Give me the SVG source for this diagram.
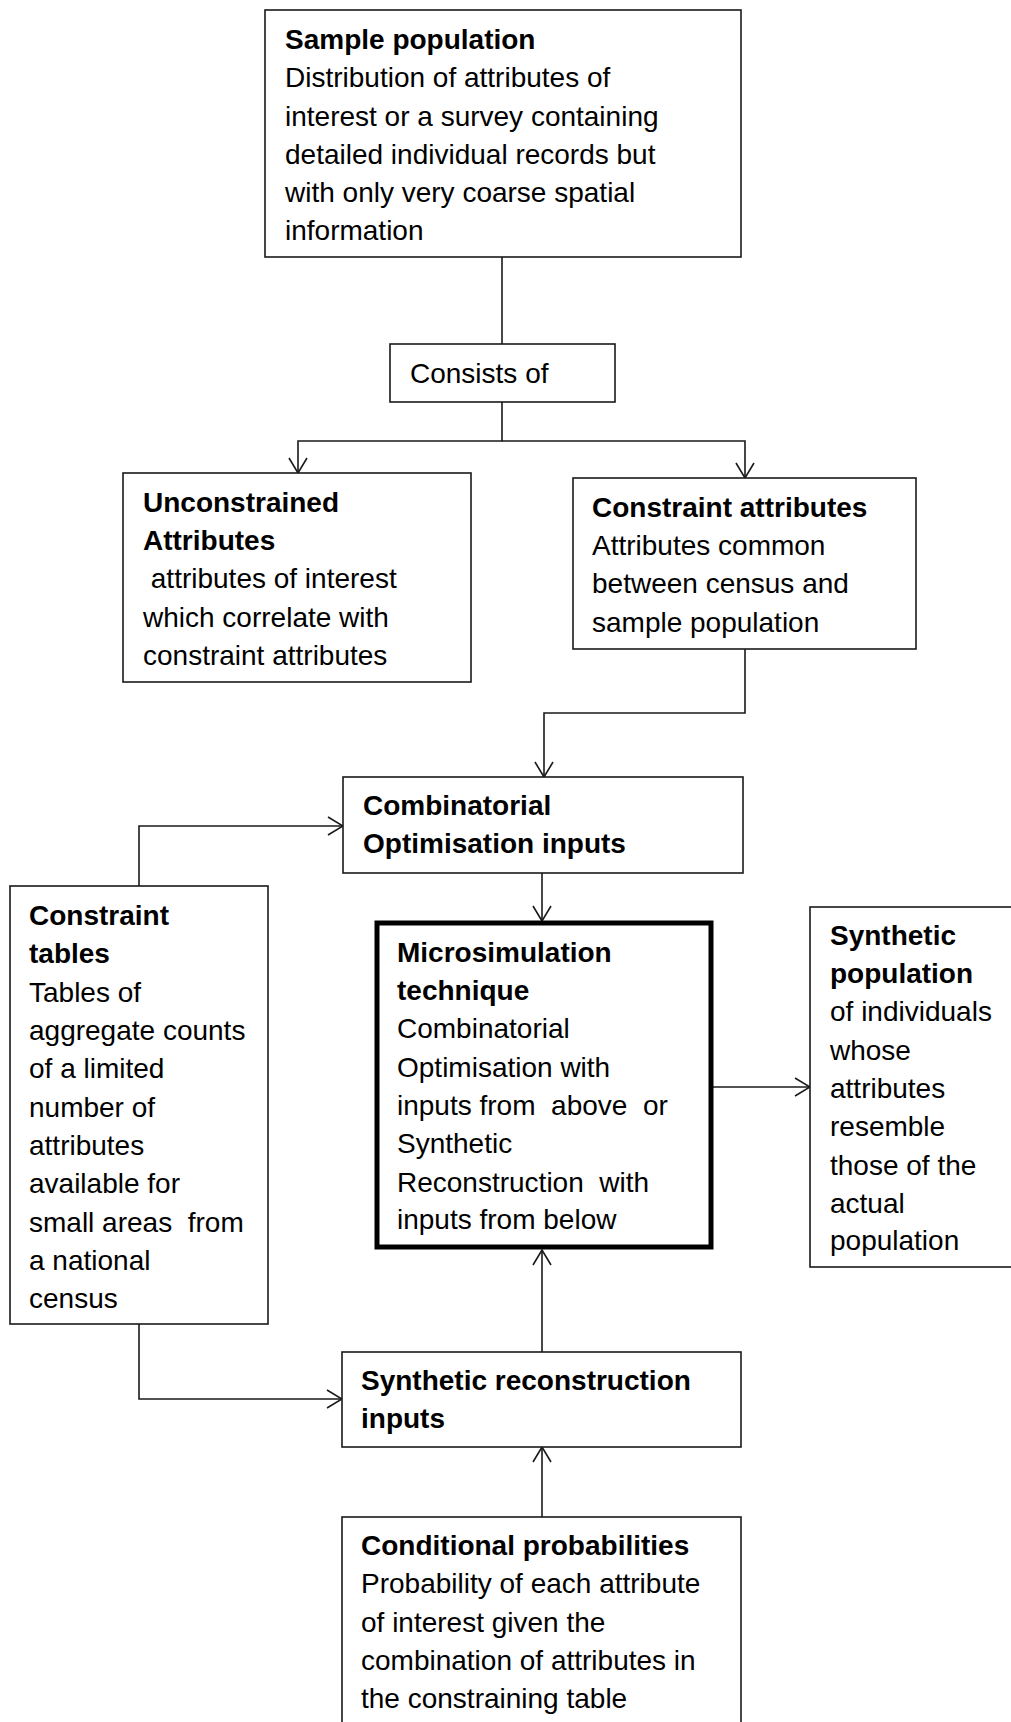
<svg xmlns="http://www.w3.org/2000/svg" width="1011" height="1722" viewBox="0 0 1011 1722">
<style>
.box{fill:#fff;stroke:#1a1a1a;stroke-width:1.6}
.thick{fill:#fff;stroke:#000;stroke-width:5}
.t{font-family:"Liberation Sans",Arial,sans-serif;font-size:28px;fill:#000}
.b{font-weight:bold}
.c{fill:none;stroke:#1a1a1a;stroke-width:1.6}
</style>
<defs>
<marker id="ah" markerUnits="userSpaceOnUse" markerWidth="17" markerHeight="20" viewBox="-1 -1 17 20" refX="15" refY="9" orient="auto">
<path d="M0,0 L15,9 L0,18" fill="none" stroke="#1a1a1a" stroke-width="1.6"/>
</marker>
</defs>
<rect width="1011" height="1722" fill="#fff"/>
<g id="connectors">
<path class="c" d="M502,257 V344"/>
<path class="c" d="M502,402 V441 H298 V473" marker-end="url(#ah)"/>
<path class="c" d="M502,441 H745 V478" marker-end="url(#ah)"/>
<path class="c" d="M745,649 V713 H544 V777" marker-end="url(#ah)"/>
<path class="c" d="M139,886 V826 H343" marker-end="url(#ah)"/>
<path class="c" d="M542,873 V921" marker-end="url(#ah)"/>
<path class="c" d="M711,1087 H810" marker-end="url(#ah)"/>
<path class="c" d="M139,1324 V1399 H342" marker-end="url(#ah)"/>
<path class="c" d="M542,1352 V1250" marker-end="url(#ah)"/>
<path class="c" d="M542,1517 V1447" marker-end="url(#ah)"/>
</g>
<g id="sample">
<rect class="box" x="265" y="10" width="476" height="247"/>
<text class="t" x="285"><tspan class="b" y="49">Sample population</tspan><tspan x="285" y="87">Distribution of attributes of</tspan><tspan x="285" y="126">interest or a survey containing</tspan><tspan x="285" y="164">detailed individual records but</tspan><tspan x="285" y="202">with only very coarse spatial</tspan><tspan x="285" y="240">information</tspan></text>
</g>
<g id="consists">
<rect class="box" x="390" y="344" width="225" height="58"/>
<text class="t" x="410" y="383">Consists of</text>
</g>
<g id="unconstrained">
<rect class="box" x="123" y="473" width="348" height="209"/>
<text class="t" x="143"><tspan class="b" y="512">Unconstrained</tspan><tspan class="b" x="143" y="550">Attributes</tspan><tspan x="143" y="588" xml:space="preserve"> attributes of interest</tspan><tspan x="143" y="627">which correlate with</tspan><tspan x="143" y="665">constraint attributes</tspan></text>
</g>
<g id="constraint-attributes">
<rect class="box" x="573" y="478" width="343" height="171"/>
<text class="t" x="592"><tspan class="b" y="517">Constraint attributes</tspan><tspan x="592" y="555">Attributes common</tspan><tspan x="592" y="593">between census and</tspan><tspan x="592" y="632">sample population</tspan></text>
</g>
<g id="combinatorial">
<rect class="box" x="343" y="777" width="400" height="96"/>
<text class="t b" x="363"><tspan y="815">Combinatorial</tspan><tspan x="363" y="853">Optimisation inputs</tspan></text>
</g>
<g id="constraint-tables">
<rect class="box" x="10" y="886" width="258" height="438"/>
<text class="t" x="29" xml:space="preserve"><tspan class="b" y="925">Constraint</tspan><tspan class="b" x="29" y="963">tables</tspan><tspan x="29" y="1002">Tables of</tspan><tspan x="29" y="1040">aggregate counts</tspan><tspan x="29" y="1078">of a limited</tspan><tspan x="29" y="1117">number of</tspan><tspan x="29" y="1155">attributes</tspan><tspan x="29" y="1193">available for</tspan><tspan x="29" y="1232">small areas  from</tspan><tspan x="29" y="1270">a national</tspan><tspan x="29" y="1308">census</tspan></text>
</g>
<g id="microsimulation">
<rect class="thick" x="377" y="923" width="334" height="324"/>
<text class="t" x="397" xml:space="preserve"><tspan class="b" y="962">Microsimulation</tspan><tspan class="b" x="397" y="1000">technique</tspan><tspan x="397" y="1038">Combinatorial</tspan><tspan x="397" y="1077">Optimisation with</tspan><tspan x="397" y="1115">inputs from  above  or</tspan><tspan x="397" y="1153">Synthetic</tspan><tspan x="397" y="1192">Reconstruction  with</tspan><tspan x="397" y="1229">inputs from below</tspan></text>
</g>
<g id="synthetic-population">
<rect class="box" x="810" y="907" width="220" height="360"/>
<text class="t" x="830"><tspan class="b" y="945">Synthetic</tspan><tspan class="b" x="830" y="983">population</tspan><tspan x="830" y="1021">of individuals</tspan><tspan x="830" y="1060">whose</tspan><tspan x="830" y="1098">attributes</tspan><tspan x="830" y="1136">resemble</tspan><tspan x="830" y="1175">those of the</tspan><tspan x="830" y="1213">actual</tspan><tspan x="830" y="1250">population</tspan></text>
</g>
<g id="synthetic-reconstruction">
<rect class="box" x="342" y="1352" width="399" height="95"/>
<text class="t b" x="361"><tspan y="1390">Synthetic reconstruction</tspan><tspan x="361" y="1428">inputs</tspan></text>
</g>
<g id="conditional">
<rect class="box" x="342" y="1517" width="399" height="220"/>
<text class="t" x="361"><tspan class="b" y="1555">Conditional probabilities</tspan><tspan x="361" y="1593">Probability of each attribute</tspan><tspan x="361" y="1632">of interest given the</tspan><tspan x="361" y="1670">combination of attributes in</tspan><tspan x="361" y="1708">the constraining table</tspan></text>
</g>
</svg>
